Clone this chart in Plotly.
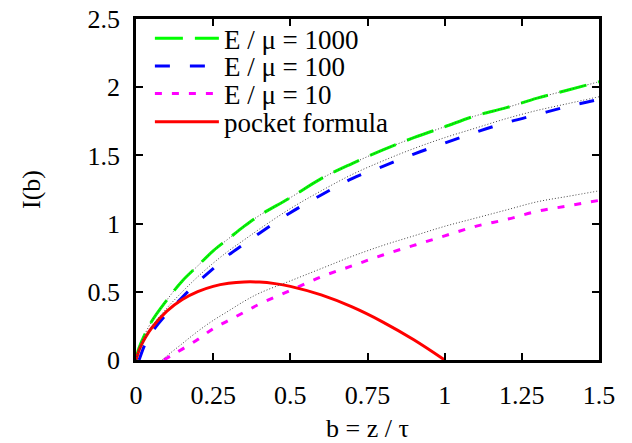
import plotly.graph_objects as go

# ---- data ----
b_1000 = [0, 0.01, 0.05, 0.1, 0.15, 0.2, 0.25, 0.3, 0.35, 0.4, 0.5, 0.6, 0.7, 0.8, 0.9, 1.0, 1.1, 1.2, 1.3, 1.4, 1.5]
I_1000 = [0, 0.09, 0.28, 0.44, 0.58, 0.69, 0.80, 0.89, 0.98, 1.06, 1.19, 1.33, 1.44, 1.54, 1.63, 1.71, 1.79, 1.85, 1.92, 1.98, 2.04]

b_100 = [0.01, 0.03, 0.05, 0.1, 0.15, 0.2, 0.25, 0.3, 0.35, 0.4, 0.5, 0.6, 0.7, 0.8, 0.9, 1.0, 1.1, 1.2, 1.3, 1.4, 1.5]
I_100 = [0, 0.12, 0.20, 0.34, 0.46, 0.57, 0.67, 0.77, 0.85, 0.93, 1.08, 1.21, 1.33, 1.42, 1.51, 1.59, 1.67, 1.74, 1.80, 1.86, 1.91]

b_10 = [0.09, 0.12, 0.15, 0.2, 0.25, 0.3, 0.35, 0.4, 0.5, 0.6, 0.7, 0.8, 0.9, 1.0, 1.1, 1.2, 1.3, 1.4, 1.5]
I_10 = [0, 0.04, 0.08, 0.15, 0.23, 0.29, 0.35, 0.41, 0.51, 0.61, 0.69, 0.77, 0.84, 0.91, 0.98, 1.03, 1.09, 1.13, 1.17]

b_pocket = [0, 0.01, 0.02, 0.03, 0.05, 0.1, 0.15, 0.2, 0.25, 0.3, 0.35, 0.4, 0.45, 0.5, 0.6, 0.7, 0.8, 0.9, 1.0]
I_pocket = [0, 0.072, 0.122, 0.164, 0.233, 0.358, 0.443, 0.501, 0.540, 0.562, 0.572, 0.571, 0.560, 0.540, 0.477, 0.389, 0.278, 0.148, 0]

# approximations (thin dotted black lines)
b_ap1000 = b_1000
I_ap1000 = I_1000
b_ap100 = [0, 0.01, 0.05, 0.1, 0.15, 0.2, 0.25, 0.3, 0.35, 0.4, 0.5, 0.6, 0.7, 0.8, 0.9, 1.0, 1.1, 1.2, 1.3, 1.4, 1.5]
I_ap100 = [0, 0.06, 0.24, 0.38, 0.50, 0.61, 0.71, 0.80, 0.88, 0.96, 1.11, 1.24, 1.36, 1.46, 1.55, 1.63, 1.70, 1.77, 1.83, 1.88, 1.93]
b_ap10 = [0.085, 0.1, 0.15, 0.2, 0.25, 0.3, 0.35, 0.4, 0.5, 0.6, 0.7, 0.8, 0.9, 1.0, 1.1, 1.2, 1.3, 1.4, 1.5]
I_ap10 = [0, 0.03, 0.12, 0.21, 0.29, 0.36, 0.43, 0.49, 0.58, 0.67, 0.76, 0.84, 0.91, 0.98, 1.04, 1.10, 1.16, 1.20, 1.24]

x_ticks = [0, 0.25, 0.5, 0.75, 1, 1.25, 1.5]
x_ticktext = ["0", "0.25", "0.5", "0.75", "1", "1.25", "1.5"]
y_ticks = [0, 0.5, 1, 1.5, 2, 2.5]
y_ticktext = ["0", "0.5", "1", "1.5", "2", "2.5"]

FONT = "Times New Roman"
FS = 26
LFS = 27

fig = go.Figure()
fig.add_trace(go.Scatter(x=b_1000, y=I_1000, mode="lines", name="E / μ = 1000", legend="legend",
                         line=dict(color="#00ff00", width=3, dash="28px,12px", shape="spline")))
fig.add_trace(go.Scatter(x=b_100, y=I_100, mode="lines", name="E / μ = 100", legend="legend2",
                         line=dict(color="#0000ff", width=3, dash="15px,20px", shape="spline")))
fig.add_trace(go.Scatter(x=b_10, y=I_10, mode="lines", name="E / μ = 10", legend="legend3",
                         line=dict(color="#ff00ff", width=3, dash="7px,10px", shape="spline")))
fig.add_trace(go.Scatter(x=b_pocket, y=I_pocket, mode="lines", name="pocket formula", legend="legend4",
                         line=dict(color="#ff0000", width=3, shape="spline")))
for bx, iy in [(b_ap1000, I_ap1000), (b_ap100, I_ap100), (b_ap10, I_ap10)]:
    fig.add_trace(go.Scatter(x=bx, y=iy, mode="lines", showlegend=False, hoverinfo="skip",
                             line=dict(color="#444444", width=1, dash="1px,2px", shape="spline")))

axis_common = dict(showgrid=False, zeroline=False, showline=True, linecolor="black", linewidth=2.5,
                   mirror="ticks", ticks="inside", ticklen=7, tickwidth=2, tickcolor="black",
                   automargin=False,
                   tickfont=dict(family=FONT, size=FS, color="black"))
fig.update_xaxes(range=[0, 1.5], tickvals=x_ticks, ticktext=x_ticktext,
                 title=dict(text="b = z / τ", font=dict(family=FONT, size=FS, color="black"), standoff=10),
                 ticklabelstandoff=10, **axis_common)
fig.update_yaxes(range=[0, 2.5], tickvals=y_ticks, ticktext=y_ticktext,
                 title=dict(text="I(b)", font=dict(family=FONT, size=FS, color="black"), standoff=40),
                 ticklabelstandoff=8, **axis_common)

def leg(yc):
    return dict(x=0.03, y=yc, xanchor="left", yanchor="middle", bgcolor="rgba(0,0,0,0)",
                font=dict(family=FONT, size=LFS, color="black"), itemwidth=64)

fig.update_layout(
    width=632, height=443,
    margin=dict(l=136, r=33, t=19, b=83, autoexpand=False),
    plot_bgcolor="white", paper_bgcolor="white",
    font=dict(family=FONT, size=FS, color="black"),
    legend=leg(0.942), legend2=leg(0.861), legend3=leg(0.780), legend4=leg(0.697),
    showlegend=True,
)

fig.write_html("out.html")
